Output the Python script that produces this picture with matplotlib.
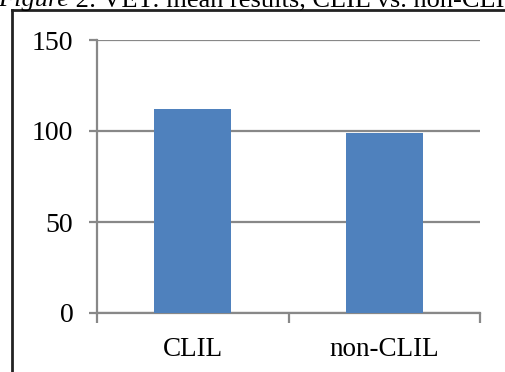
import matplotlib
matplotlib.use("Agg")
import matplotlib.pyplot as plt
from matplotlib.lines import Line2D

categories = ["CLIL", "non-CLIL"]
values = [112, 99]
yticks = [0, 50, 100, 150]

W, H = 505, 372
fig = plt.figure(figsize=(W / 100, H / 100), dpi=100)
ax = fig.add_axes([97 / W, 1 - 313 / H, (480 - 97) / W, (313 - 40) / H])

x = list(range(len(categories)))
ax.bar(x, values, width=0.4, color="#4F81BD", zorder=3)
ax.set_xlim(-0.5, len(categories) - 0.5)
ax.set_ylim(0, 150)
ax.set_yticks(yticks)
ax.set_yticklabels([str(v) for v in yticks])
ax.set_xticks(x)
ax.set_xticklabels(categories)
ax.set_xticks([-0.5, 0.5, 1.5], minor=True)

grid_c = "#888888"
ax.yaxis.grid(True, color=grid_c, linewidth=1.6, zorder=0)
for s in ["top", "right"]:
    ax.spines[s].set_visible(False)
for s in ["left", "bottom"]:
    ax.spines[s].set_color(grid_c)
    ax.spines[s].set_linewidth(1.6)

font = "Liberation Serif"
ax.tick_params(axis="y", which="major", length=6, width=1.6, color=grid_c,
               pad=11, labelsize=20)
ax.tick_params(axis="x", which="major", length=0, pad=17, labelsize=19.5)
ax.tick_params(axis="x", which="minor", length=7, width=1.6, color=grid_c)
for lab in ax.get_xticklabels() + ax.get_yticklabels():
    lab.set_fontfamily(font)

# frame around chart
fig.add_artist(Line2D([11.5 / W, 11.5 / W], [0, 1 - 10 / H], transform=fig.transFigure,
                      color="#222222", linewidth=2))
fig.add_artist(Line2D([11.5 / W, 1], [1 - 10 / H, 1 - 10 / H], transform=fig.transFigure,
                      color="#222222", linewidth=2))

# title (clipped at top, as in the source document)
t1 = fig.text(-2 / W, 1 - 6 / H, "Figure", fontfamily=font, fontstyle="italic",
              fontsize=19, va="baseline", ha="left")
fig.canvas.draw()
bb = t1.get_window_extent()
fig.text(bb.x1 / W, 1 - 6 / H, " 2: VET: mean results, CLIL vs. non-CLIL",
         fontfamily=font, fontsize=19, va="baseline", ha="left")

fig.savefig("out.png", dpi=100)
